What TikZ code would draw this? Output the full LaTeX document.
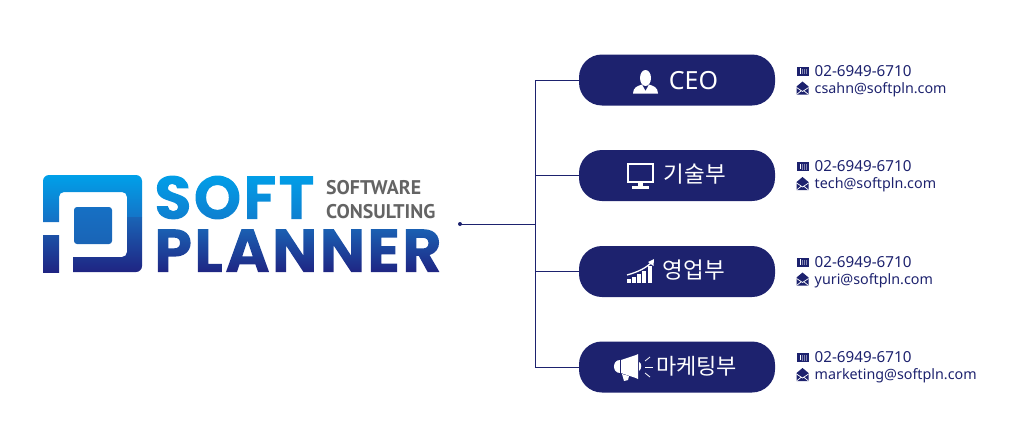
\documentclass[tikz,border=0pt]{standalone}
\usepackage{fontspec}
\setmainfont{Noto Sans}
\newfontfamily\cjkfont{Noto Sans CJK KR}
\newfontfamily\logofont{Poppins}[BoldFont=Poppins Bold,LetterSpace=3]
\newfontfamily\subfont{PT Sans}
\definecolor{navy}{RGB}{29,34,110}
\definecolor{sky_top}{RGB}{0,160,233}
\definecolor{sky_low}{RGB}{22,112,196}
\definecolor{deep_top}{RGB}{26,100,182}
\definecolor{deep_low}{RGB}{31,36,130}
\definecolor{word_gray}{RGB}{100,100,100}
\newlength\wordw
% word used as clip for a vertical gradient
\newcommand\gradword[3]{\setbox0\hbox{#1}\setlength\wordw{\wd0}\special{pdf:code q 7 Tr}\copy0\special{pdf:code 0 Tr}\kern-\wordw\rlap{\smash{\tikz[baseline=0pt,x=1pt,y=1pt]\shade[top color=#2,bottom color=#3] (0,-1) rectangle (\wordw,46);}}\special{pdf:code Q}\kern\wordw}
\tikzset{
	pill/.style={rectangle,rounded corners=23pt,fill=navy,minimum width=196pt,minimum height=51pt,inner sep=0pt},
	wire/.style={navy,line width=0.9pt},
	phonetext/.style={text=navy,anchor=west,inner sep=0pt,font=\fontsize{15.2}{16}\selectfont\bfseries},
	mailtext/.style={text=navy,anchor=west,inner sep=0pt,font=\fontsize{14.3}{16}\selectfont\bfseries},
	title/.style={text=white,inner sep=0pt,font=\fontsize{24}{28}\selectfont},
	logoword/.style={text=black,anchor=base west,inner sep=0pt,font=\logofont\bfseries\fontsize{61}{61}\selectfont},
	subword/.style={text=word_gray,anchor=base west,inner sep=0pt,font=\subfont\bfseries\fontsize{19.8}{22}\selectfont},
	phoneicon/.pic={
		\fill[navy] (-6,-4.5) rectangle (6,4.5);
		\fill[white] (-3,-3) rectangle (-2.2,2.5);
		\fill[navy!55] (-1,-2.5) rectangle (4.8,3);
		\foreach \x in {0.6,2.6}
			\fill[navy] (\x,-2.5) rectangle +(0.6,5.5);
	},
	mailicon/.pic={
		\fill[navy] (-6,-2) -- (0,-7) -- (6,-2) -- (6,6) -- (-6,6) -- cycle;
		\draw[white,line width=0.7pt] (-6,-1) -- (0,3) -- (6,-1) (-6,6) -- (-1,2) (6,6) -- (1,2);
	}
}
\begin{document}
\begin{tikzpicture}[x=1pt,y=-1pt]
	\useasboundingbox (0,0) rectangle (1024,447);

	% logo mark
	\shade[top color=sky_top,bottom color=sky_low] (43,222) [rounded corners=6pt] -- (43,175) -- (142,175) [sharp corners] -- (142,217) -- (127,217) [rounded corners=5pt] -- (127,192) -- (59,192) [sharp corners] -- (59,222) -- cycle;
	\shade[top color=deep_top,bottom color=deep_low] (127,217) -- (142,217) [rounded corners=6pt] -- (142,272) [sharp corners] -- (73,272) -- (73,257) [rounded corners=5pt] -- (127,257) [sharp corners] -- cycle;
	\shade[top color=deep_low!30!deep_top,bottom color=deep_low] (43,235) rectangle (59,272);
	\shade[top color=sky_low,bottom color=deep_top,rounded corners=3pt] (74,207) rectangle (112,244);

	% logo words
	\node[logoword] (soft) at (154,219) {\gradword{SOFT}{sky_top}{sky_low!70!sky_top}};
	\node[logoword] (planner) at (154,272) {\gradword{PLANNER}{deep_top}{deep_low}};
	\node[subword] (software) at (326,194) {SOFTWARE};
	\node[subword] (consulting) at (326,218) {CONSULTING};

	% pills
	\node[pill] (ceo) at (677,80) {};
	\node[pill] (tech) at (677,175.5) {};
	\node[pill] (sales) at (677,271.5) {};
	\node[pill] (mkt) at (677,367) {};

	% connectors
	\fill[navy] (460,224) circle (2);
	\coordinate (dot) at (460,224);
	\coordinate (hub) at (535,224);
	\draw[wire] (dot) -- (hub);
	\draw[wire] (hub |- ceo.west) -- (hub |- mkt.west);
	\foreach \p in {ceo,tech,sales,mkt}
		\draw[wire] (hub |- \p.west) -- (\p.west);

	% pill titles
	\node[title,font=\fontsize{25}{28}\selectfont] (ceotxt) at (693.5,81) {CEO};
	\node[title,font=\cjkfont\fontsize{22.5}{28}\selectfont] (techtxt) at (695,174) {기술부};
	\node[title,font=\cjkfont\fontsize{22.5}{28}\selectfont] (salestxt) at (694,270) {영업부};
	\node[title,font=\cjkfont\fontsize{22}{28}\selectfont] (mkttxt) at (696.5,366) {마케팅부};

	% person
	\fill[white] (645.5,78) ellipse (5.5 and 8);
	\fill[white] (633,93.5) .. controls (633,87) and (638,86) .. (642,84.5) -- (645.5,91) -- (649,84.5) .. controls (653,86) and (658,87) .. (658,93.5) -- cycle;
	% monitor
	\draw[white,line width=2pt] (627.5,164) rectangle (653,182);
	\fill[white] (638,182) rectangle (643,186);
	\fill[white] (632,186) rectangle (649,188.5);
	% chart
	\foreach \x/\y in {627/279,632/277,637/274,642/271,648/266}
		\fill[white] (\x,\y) rectangle (\x+4.3,283);
	\draw[white,line width=1.3pt] (627,275) .. controls (638,272) and (646,268) .. (652,262);
	\fill[white] (654,259) -- (653.5,266) -- (648,262) -- cycle;
	% megaphone
	\fill[white] (621,360) -- (636,355) -- (638,354) -- (638,379) -- (636,378) -- (621,373) -- cycle;
	\fill[white] (620,360) .. controls (612,360) and (612,373) .. (620,373) -- cycle;
	\fill[white] (622,374) -- (629,376) -- (628,380) -- (624,381) -- cycle;
	\fill[white] (639,362) .. controls (642,363) and (642,369) .. (639,371) -- cycle;
	\foreach \a/\b/\c/\d in {645/361/650/357,645/367/653/367,645/373/650/377}
		\draw[white,line width=0.8pt] (\a,\b) -- (\c,\d);

	% contact lines
	\foreach \n/\y/\mail in {a/71/csahn@softpln.com,b/166.5/tech@softpln.com,c/262/yuri@softpln.com,d/357.5/marketing@softpln.com}{
		\pic at (802.5,\y) {phoneicon};
		\pic at (802.5,\y+17.5) {mailicon};
		\node[phonetext] (phone\n) at (814.5,\y) {02-6949-6710};
		\node[mailtext] (mail\n) at (814.5,\y+18.5) {\mail};
	}
\end{tikzpicture}
\end{document}
